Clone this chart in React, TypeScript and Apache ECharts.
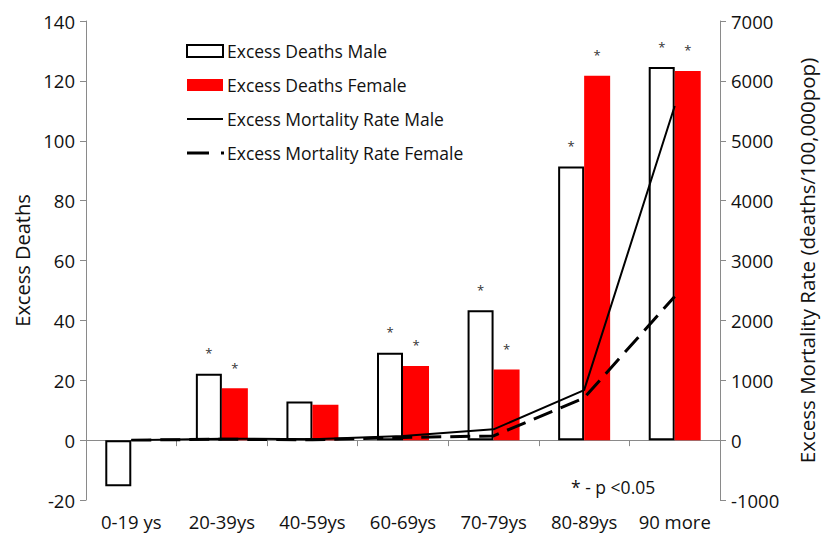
import React, { useEffect, useRef } from "react";
import * as echarts from "echarts";

const categories = ["0-19 ys", "20-39ys", "40-59ys", "60-69ys", "70-79ys", "80-89ys", "90 more"];
const deathsMale = [-15.4, 22.2, 12.9, 29.2, 43.4, 91.4, 124.6];
const deathsFemale = [null, 17.3, 11.8, 24.8, 23.6, 121.7, 123.3];
const rateMale = [0, 25, 15, 70, 180, 835, 5580];
const rateFemale = [0, 15, 5, 45, 70, 705, 2400];
const sigMale = [false, true, false, true, true, true, true];
const sigFemale = [false, true, false, true, true, true, true];
const leftTicks = { min: -20, max: 140, interval: 20 };
const rightTicks = { min: -1000, max: 7000, interval: 1000 };
const legendNames = [
  "Excess Deaths Male",
  "Excess Deaths Female",
  "Excess Mortality Rate Male",
  "Excess Mortality Rate Female",
];

const FONT = "'Open Sans', sans-serif";
const AXIS_GRAY = "#8a8a8a";

export default function App() {
  const ref = useRef<HTMLDivElement>(null);
  useEffect(() => {
    document.body.style.margin = "0";
    if (!ref.current) return;
    const chart = echarts.init(ref.current, null, { renderer: "svg" });
    const starLabel = (sig: boolean[]) => ({
      show: true,
      position: "top",
      distance: 14,
      fontSize: 13,
      color: "#333",
      fontFamily: FONT,
      formatter: (p: any) => (sig[p.dataIndex] ? "*" : ""),
    });
    const legendX = 187;
    const rowY = [51, 85, 119, 153];
    const legendText = legendNames.map((n, i) => ({
      type: "text",
      x: 227,
      y: rowY[i],
      style: {
        text: n,
        fontSize: 17.5,
        fill: "#111",
        fontFamily: FONT,
        verticalAlign: "middle",
        align: "left",
      },
    }));
    chart.setOption({
      animation: false,
      backgroundColor: "#fff",
      textStyle: { fontFamily: FONT },
      grid: { left: 86, right: 109, top: 21, bottom: 40, containLabel: false },
      xAxis: [
        {
          type: "category",
          data: categories,
          position: "bottom",
          axisLine: { show: false, onZero: false },
          axisTick: { show: false },
          axisLabel: { fontSize: 18.5, color: "#111", margin: 12, fontFamily: FONT, interval: 0, hideOverlap: false },
        },
        {
          type: "category",
          data: categories,
          position: "bottom",
          axisLine: { show: true, onZero: true, onZeroAxisIndex: 0, lineStyle: { color: AXIS_GRAY, width: 1 } },
          axisTick: { show: true, length: 6, lineStyle: { color: AXIS_GRAY } },
          axisLabel: { show: false },
        },
      ],
      yAxis: [
        {
          type: "value",
          ...leftTicks,
          name: "Excess Deaths",
          nameLocation: "middle",
          nameGap: 50,
          nameTextStyle: { fontSize: 20, color: "#111", fontFamily: FONT },
          axisLine: { show: true, lineStyle: { color: AXIS_GRAY } },
          axisTick: { show: true, length: 6, lineStyle: { color: AXIS_GRAY } },
          splitLine: { show: false },
          axisLabel: { fontSize: 18.5, color: "#111", margin: 11, fontFamily: FONT },
        },
        {
          type: "value",
          ...rightTicks,
          position: "right",
          name: "Excess Mortality Rate (deaths/100,000pop)",
          nameLocation: "middle",
          nameGap: 76,
          nameTextStyle: { fontSize: 20.5, color: "#111", fontFamily: FONT },
          axisLine: { show: true, lineStyle: { color: AXIS_GRAY } },
          axisTick: { show: true, length: 6, lineStyle: { color: AXIS_GRAY } },
          splitLine: { show: false },
          axisLabel: {
            fontSize: 18.5,
            color: "#111",
            margin: 11,
            fontFamily: FONT,
            formatter: (v: number) => String(v),
          },
        },
      ],
      series: [
        {
          name: legendNames[0],
          type: "bar",
          xAxisIndex: 0,
          yAxisIndex: 0,
          data: deathsMale,
          barWidth: 26,
          barGap: "0%",
          itemStyle: { color: "#ffffff", borderColor: "#000", borderWidth: 2 },
          label: starLabel(sigMale),
          z: 2,
        },
        {
          name: legendNames[1],
          type: "bar",
          xAxisIndex: 0,
          yAxisIndex: 0,
          data: deathsFemale,
          barWidth: 26,
          barGap: "0%",
          itemStyle: { color: "#ff0000" },
          label: starLabel(sigFemale),
          z: 2,
        },
        {
          name: legendNames[2],
          type: "line",
          xAxisIndex: 0,
          yAxisIndex: 1,
          data: rateMale,
          symbol: "none",
          lineStyle: { color: "#000", width: 2 },
          itemStyle: { color: "#000" },
          z: 5,
        },
        {
          name: legendNames[3],
          type: "line",
          xAxisIndex: 0,
          yAxisIndex: 1,
          data: rateFemale,
          symbol: "none",
          lineStyle: { color: "#000", width: 3, type: [20, 9] },
          itemStyle: { color: "#000" },
          z: 5,
        },
      ],
      graphic: [
        {
          type: "rect",
          shape: { x: legendX, y: 45, width: 36, height: 12 },
          style: { fill: "#fff", stroke: "#000", lineWidth: 2 },
        },
        {
          type: "rect",
          shape: { x: legendX, y: 79, width: 36, height: 12 },
          style: { fill: "#ff0000" },
        },
        {
          type: "line",
          shape: { x1: legendX, y1: 119, x2: legendX + 36, y2: 119 },
          style: { stroke: "#000", lineWidth: 2 },
        },
        {
          type: "line",
          shape: { x1: legendX, y1: 153, x2: legendX + 37, y2: 153 },
          style: { stroke: "#000", lineWidth: 3, lineDash: [22, 12] },
        },
        ...legendText,
        {
          type: "text",
          x: 571,
          y: 487,
          style: {
            text: "* - p <0.05",
            fontSize: 17.5,
            fill: "#111",
            fontFamily: FONT,
            verticalAlign: "middle",
          },
        },
      ],
    });
    return () => chart.dispose();
  }, []);
  return <div ref={ref} style={{ width: 829, height: 540 }} />;
}
